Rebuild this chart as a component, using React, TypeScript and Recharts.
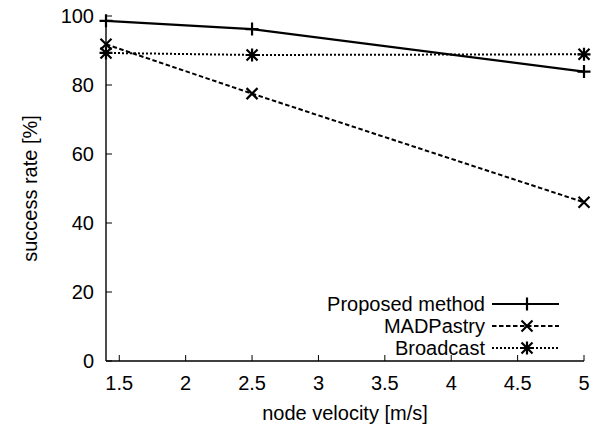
import { LineChart, Line, XAxis, YAxis, Legend } from 'recharts';

const velocities = [1.4, 2.5, 5];
const proposed = [98.6, 96.2, 83.9];
const madPastry = [91.8, 77.5, 46.0];
const broadcast = [89.3, 88.7, 88.9];
const xTicks = [1.5, 2, 2.5, 3, 3.5, 4, 4.5, 5];
const yTicks = [0, 20, 40, 60, 80, 100];

const data = velocities.map((v, i) => ({
  v,
  proposed: proposed[i],
  mad: madPastry[i],
  broadcast: broadcast[i],
}));

const FONT = '"Liberation Sans", Arial, Helvetica, sans-serif';

const series = [
  { key: 'proposed', name: 'Proposed method', dash: undefined, mark: 'plus', width: 2.2 },
  { key: 'mad', name: 'MADPastry', dash: '4.5 2.5', mark: 'cross', width: 2 },
  { key: 'broadcast', name: 'Broadcast', dash: '2 2', mark: 'star', width: 2 },
];

const markPath = (kind: string, x: number, y: number) => {
  const r = 6.5;
  const d = 5.5;
  const plus = `M${x - r},${y}H${x + r}M${x},${y - r}V${y + r}`;
  const cross = `M${x - d},${y - d}L${x + d},${y + d}M${x - d},${y + d}L${x + d},${y - d}`;
  if (kind === 'plus') return plus;
  if (kind === 'cross') return cross;
  return `M${x},${y - r}V${y + r}` + cross + `M${x - r},${y}H${x + r}`;
};

const makeDot = (kind: string, key: string) => (p: any) => (
  <path
    key={`${key}-${p.index}`}
    d={markPath(kind, p.cx, p.cy)}
    stroke="#000"
    strokeWidth={2.2}
    fill="none"
  />
);

const txt = { fontSize: 20, fontFamily: FONT, fill: '#000' };

const BottomTick = (p: any) => (
  <g>
    <line x1={p.x} y1={p.y} x2={p.x} y2={p.y - 6} stroke="#000" />
    <text x={p.x} y={p.y + 29} textAnchor="middle" {...txt}>
      {p.payload.value}
    </text>
  </g>
);

const TopTick = (p: any) => (
  <line x1={p.x} y1={p.y} x2={p.x} y2={p.y + 6} stroke="#000" />
);

const LeftTick = (p: any) => (
  <g>
    <line x1={p.x} y1={p.y} x2={p.x + 6} y2={p.y} stroke="#000" />
    <text x={p.x - 12} y={p.y + 7} textAnchor="end" {...txt}>
      {p.payload.value}
    </text>
  </g>
);

const RightTick = (p: any) => (
  <line x1={p.x} y1={p.y} x2={p.x - 6} y2={p.y} stroke="#000" />
);

const XTitle = (p: any) => {
  const vb = p.viewBox;
  return (
    <text x={vb.x + vb.width / 2} y={vb.y + 59} textAnchor="middle" {...txt}>
      node velocity [m/s]
    </text>
  );
};

const YTitle = (p: any) => {
  const vb = p.viewBox;
  const cx = 30;
  const cy = vb.y + vb.height / 2;
  return (
    <text
      x={cx}
      y={cy}
      transform={`rotate(-90 ${cx} ${cy})`}
      textAnchor="middle"
      dominantBaseline="central"
      {...txt}
    >
      success rate [%]
    </text>
  );
};

const LegendBox = () => (
  <svg width={280} height={70}>
    {series.map((s, i) => {
      const y = 12 + i * 22;
      return (
        <g key={s.key}>
          <text x={185} y={y + 7} textAnchor="end" {...txt}>
            {s.name}
          </text>
          <line
            x1={192}
            y1={y}
            x2={259}
            y2={y}
            stroke="#000"
            strokeWidth={s.width}
            strokeDasharray={s.dash}
          />
          <path d={markPath(s.mark, 227, y)} stroke="#000" strokeWidth={2.2} fill="none" />
        </g>
      );
    })}
  </svg>
);

export default function App() {
  return (
    <div style={{ position: 'absolute', left: 0, top: 0, background: '#fff' }}>
      <LineChart
        width={600}
        height={426}
        data={data}
        margin={{ top: 16, right: 16, bottom: 0, left: 0 }}
      >
        <XAxis
          dataKey="v"
          type="number"
          domain={[1.4, 5]}
          ticks={xTicks}
          interval={0}
          height={65}
          tickSize={0}
          tickMargin={0}
          tickLine={false}
          tick={BottomTick}
          axisLine={{ stroke: '#000', strokeWidth: 1.4 }}
          label={{ content: XTitle }}
        />
        <XAxis
          xAxisId="top"
          orientation="top"
          dataKey="v"
          type="number"
          domain={[1.4, 5]}
          ticks={xTicks}
          interval={0}
          height={0}
          tickSize={0}
          tickMargin={0}
          tickLine={false}
          tick={TopTick}
          axisLine={{ stroke: '#000', strokeWidth: 1.4 }}
        />
        <YAxis
          type="number"
          domain={[0, 100]}
          ticks={yTicks}
          interval={0}
          width={106}
          tickSize={0}
          tickMargin={0}
          tickLine={false}
          tick={LeftTick}
          axisLine={{ stroke: '#000', strokeWidth: 1.4 }}
          label={{ content: YTitle }}
        />
        <YAxis
          yAxisId="right"
          orientation="right"
          type="number"
          domain={[0, 100]}
          ticks={yTicks}
          interval={0}
          width={0}
          tickSize={0}
          tickMargin={0}
          tickLine={false}
          tick={RightTick}
          axisLine={{ stroke: '#000', strokeWidth: 1.4 }}
        />
        <Legend
          layout="vertical"
          align="center"
          verticalAlign="middle"
          wrapperStyle={{ left: 300, top: 292, width: 280, height: 70 }}
          content={LegendBox}
        />
        {series.map((s) => (
          <Line
            key={s.key}
            dataKey={s.key}
            name={s.name}
            stroke="#000"
            strokeWidth={s.width}
            strokeDasharray={s.dash}
            dot={makeDot(s.mark, s.key)}
            activeDot={false}
            isAnimationActive={false}
          />
        ))}
      </LineChart>
    </div>
  );
}
